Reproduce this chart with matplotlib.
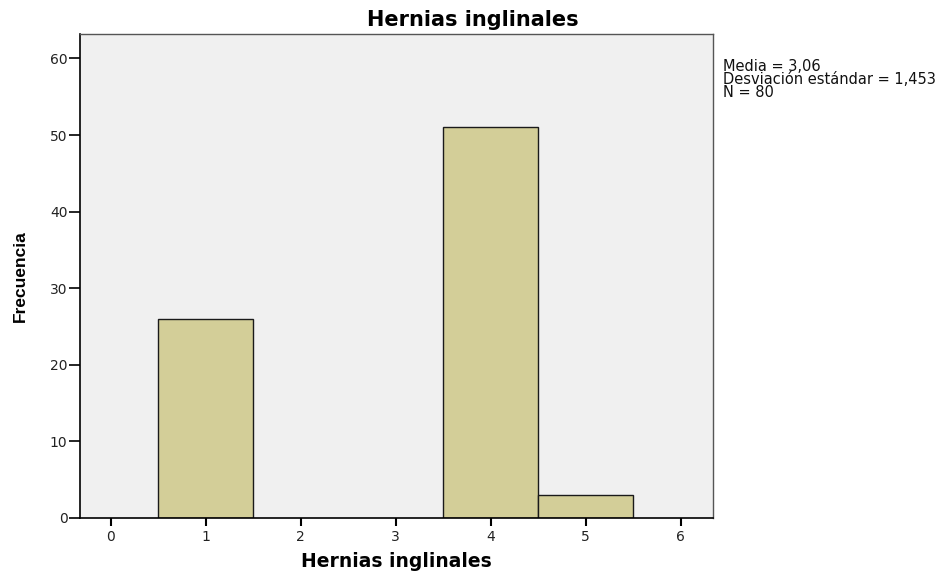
import matplotlib
matplotlib.use("Agg")
import matplotlib.pyplot as plt
import numpy as np

# Frequency table for "Hernias inglinales"
values = [1, 4, 5]
counts = [26, 51, 3]
x_ticks = [0, 1, 2, 3, 4, 5, 6]
y_ticks = [0, 10, 20, 30, 40, 50, 60]
stats_text = "Media = 3,06\nDesviación estándar = 1,453\nN = 80"

plt.rcParams['font.family'] = ['DejaVu Sans']

W, H = 945, 572
fig = plt.figure(figsize=(W / 100, H / 100), dpi=100)
ax = fig.add_axes([80 / W, 1 - 517.7 / H, 633 / W, 483.7 / H])
ax.set_facecolor('#f0f0f0')

ax.bar(values, counts, width=1.0, color='#d3ce98', edgecolor='#1a1a1a', linewidth=1.0)

ax.set_xlim(-0.323, 6.34)
ax.set_ylim(0, 63.2)
ax.set_xticks(x_ticks)
ax.set_yticks(y_ticks)
ax.tick_params(axis='both', labelsize=10, colors='#000000', labelcolor='#222222')
ax.tick_params(axis='y', direction='out', length=8, width=1.2, pad=1)
ax.tick_params(axis='x', direction='out', length=6, width=1.5, pad=3)

for side in ['left', 'bottom']:
    ax.spines[side].set_color('#000000')
    ax.spines[side].set_linewidth(1.2)
for side in ['top', 'right']:
    ax.spines[side].set_color('#555555')
    ax.spines[side].set_linewidth(1.0)

# Title centred on the whole figure
fig.text(0.5, 1 - 26.5 / H, 'Hernias inglinales', fontsize=15, fontweight='bold',
         ha='center', va='baseline')

ax.set_xlabel('Hernias inglinales', fontsize=13.5, fontweight='bold')
ax.xaxis.set_label_coords(0.5, (517.7 - 552) / 483.7)
ax.set_ylabel('Frecuencia', fontsize=12.5, fontweight='bold',
              family=['Liberation Sans', 'DejaVu Sans'])
ax.yaxis.set_label_coords((28 - 80) / 633, 0.5)

fig.text(723 / W, 1 - 59 / H, stats_text, fontsize=10.5, va='top', ha='left',
         linespacing=0.85, color='#111111')

fig.savefig('out.png', dpi=100)
